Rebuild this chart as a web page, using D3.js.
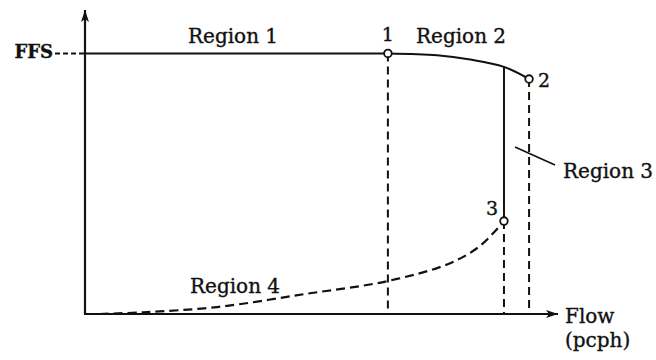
<!DOCTYPE html>
<html>
  <head>
    <meta charset="utf-8">
    <style>
      body { margin: 0; background: #fff; }
      text { font-family: "DejaVu Serif", "Liberation Serif", serif; fill: #111; stroke: #111; stroke-width: 0.35; }
    </style>
  </head>
  <body>
    <script src="https://cdn.jsdelivr.net/npm/d3@7"></script>
    <script>
    // speed (mph) vs flow (pcph)
    var ffs = 60;
    var region1Flow = [0, 1665];
    var region2Flow = [1665, 1935, 2117, 2303, 2441];
    var region2Speed = [60, 59.6, 58.6, 56.9, 54.1];
    var region4Flow = [80, 320, 726, 1209, 1665, 2007, 2172, 2303];
    var region4Speed = [0, 0.4, 1.6, 4.6, 7.6, 11.7, 15.7, 21.4];
    var breakFlow = [1665, 2441, 2303];   // points 1, 2, 3
    var breakSpeed = [60, 54.1, 21.4];
    var breakLabels = ["1", "2", "3"];
    var regionLabels = ["Region 1", "Region 2", "Region 3", "Region 4"];

    var width = 656, height = 360;
    var svg = d3.select("body").append("svg")
        .attr("width", width)
        .attr("height", height);

    var x = d3.scaleLinear().domain([0, 2600]).range([85, 558]);
    var y = d3.scaleLinear().domain([0, 70]).range([314, 10]);

    var pts = function(xs, ys) { return xs.map(function(d, i) { return [d, ys[i]]; }); };
    var line = d3.line()
        .x(function(d) { return x(d[0]); })
        .y(function(d) { return y(d[1]); })
        .curve(d3.curveCatmullRom.alpha(0.5));

    // arrowheads
    var defs = svg.append("defs");
    defs.append("marker")
        .attr("id", "arrow")
        .attr("viewBox", "0 0 12 8")
        .attr("refX", 12).attr("refY", 4)
        .attr("markerWidth", 12).attr("markerHeight", 8)
        .attr("markerUnits", "userSpaceOnUse")
        .attr("orient", "auto")
      .append("path")
        .attr("d", "M0,0 L12,4 L0,8 L3,4 Z")
        .attr("fill", "#111");

    // drop lines from break points
    svg.selectAll(".drop")
      .data(breakFlow)
      .enter().append("line")
        .attr("x1", function(d) { return x(d); })
        .attr("x2", function(d) { return x(d); })
        .attr("y1", function(d, i) { return y(breakSpeed[i]); })
        .attr("y2", y(0))
        .attr("stroke", "#111")
        .attr("stroke-width", 2)
        .attr("stroke-dasharray", "8,5");

    // region 3: vertical solid from region 2 curve down to point 3
    svg.append("line")
        .attr("x1", x(breakFlow[2])).attr("x2", x(breakFlow[2]))
        .attr("y1", y(region2Speed[3])).attr("y2", y(breakSpeed[2]))
        .attr("stroke", "#111").attr("stroke-width", 2);

    // region 1 flat line at FFS
    svg.append("path")
        .attr("d", line(pts(region1Flow, [ffs, ffs])))
        .attr("fill", "none").attr("stroke", "#111").attr("stroke-width", 2);

    // region 2 curve
    svg.append("path")
        .attr("d", line(pts(region2Flow, region2Speed)))
        .attr("fill", "none").attr("stroke", "#111").attr("stroke-width", 2);

    // region 4 dashed curve
    svg.append("path")
        .attr("d", line(pts(region4Flow, region4Speed)))
        .attr("fill", "none").attr("stroke", "#111").attr("stroke-width", 2.2)
        .attr("stroke-dasharray", "9,5");

    // axes
    svg.append("line")
        .attr("x1", x(0)).attr("x2", x(2600))
        .attr("y1", y(0)).attr("y2", y(0))
        .attr("stroke", "#111").attr("stroke-width", 2.2)
        .attr("marker-end", "url(#arrow)");
    svg.append("line")
        .attr("x1", x(0)).attr("x2", x(0))
        .attr("y1", y(0) + 1).attr("y2", y(70))
        .attr("stroke", "#111").attr("stroke-width", 2.2)
        .attr("marker-end", "url(#arrow)");

    // FFS tick
    svg.append("line")
        .attr("x1", 55).attr("x2", x(0))
        .attr("y1", y(ffs)).attr("y2", y(ffs))
        .attr("stroke", "#111").attr("stroke-width", 2)
        .attr("stroke-dasharray", "5,3");
    svg.append("text")
        .attr("x", 53).attr("y", y(ffs) + 5)
        .attr("text-anchor", "end")
        .attr("font-size", 18).attr("font-weight", "bold")
        .text("FFS");

    // break point markers
    svg.selectAll(".pt")
      .data(breakFlow)
      .enter().append("circle")
        .attr("cx", function(d) { return x(d); })
        .attr("cy", function(d, i) { return y(breakSpeed[i]); })
        .attr("r", 3.8)
        .attr("fill", "#fff")
        .attr("stroke", "#111")
        .attr("stroke-width", 1.8);

    var offs = [[0, -12, "middle"], [9, 8, "start"], [-18, -6, "start"]];
    svg.selectAll(".ptlab")
      .data(breakLabels)
      .enter().append("text")
        .attr("x", function(d, i) { return x(breakFlow[i]) + offs[i][0]; })
        .attr("y", function(d, i) { return y(breakSpeed[i]) + offs[i][1]; })
        .attr("text-anchor", function(d, i) { return offs[i][2]; })
        .attr("font-size", 19)
        .text(function(d) { return d; });

    // region labels
    var labPos = [[188, 43], [416, 43], [563, 178], [190, 293]];
    svg.selectAll(".reg")
      .data(regionLabels)
      .enter().append("text")
        .attr("x", function(d, i) { return labPos[i][0]; })
        .attr("y", function(d, i) { return labPos[i][1]; })
        .attr("font-size", 20)
        .text(function(d) { return d; });

    // leader for region 3
    svg.append("line")
        .attr("x1", 515).attr("y1", 147)
        .attr("x2", 555).attr("y2", 165)
        .attr("stroke", "#111").attr("stroke-width", 1.6);

    // x axis title
    svg.append("text").attr("x", 565).attr("y", 323).attr("font-size", 20).text("Flow");
    svg.append("text").attr("x", 565).attr("y", 347).attr("font-size", 20).text("(pcph)");
    </script>
  </body>
</html>
